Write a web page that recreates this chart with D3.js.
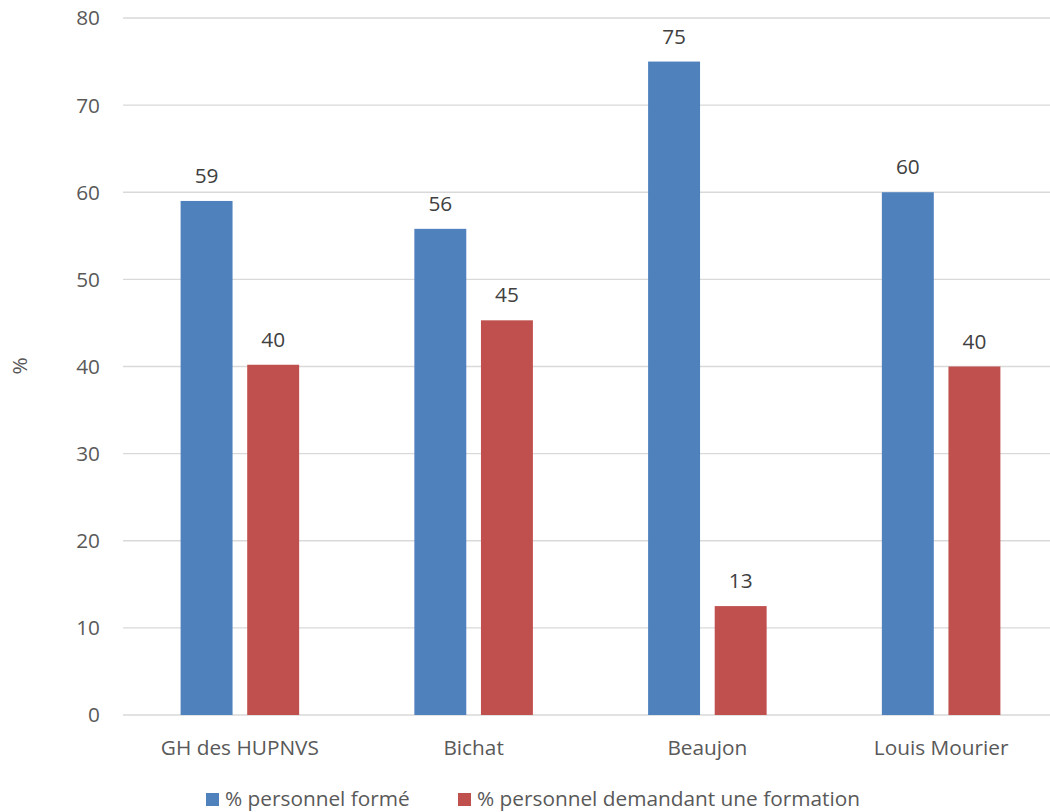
<!DOCTYPE html>
<html>
<head>
<meta charset="utf-8">
<script src="https://cdn.jsdelivr.net/npm/d3@7"></script>
<style>
  body { margin: 0; background: #fff; }
  text { font-family: "Open Sans", "Noto Sans", sans-serif; }
</style>
</head>
<body>
<div id="app"></div>
<script>
// chart data
var sites = ["GH des HUPNVS", "Bichat", "Beaujon", "Louis Mourier"]
var seriesNames = ["% personnel formé", "% personnel demandant une formation"]
var forme = [59.0, 55.8, 75.0, 60.0]
var demande = [40.2, 45.3, 12.5, 40.0]
var yTicks = [0, 10, 20, 30, 40, 50, 60, 70, 80]
var colors = ["#4f81bd", "#c0504d"]

var width = 1050, height = 812
var fontSize = 20.8

var data = sites.map(function (s, i) {
  return { site: s, values: [forme[i], demande[i]] }
})

var svg = d3.select("#app")
  .append("svg")
  .attr("width", width)
  .attr("height", height)

// scales
var x = d3.scaleBand()
  .domain(sites)
  .range([123, 1058])

var xSub = d3.scaleBand()
  .domain([0, 1])
  .range([0, x.bandwidth()])
  .paddingInner(0.22)
  .paddingOuter(0.865)

var y = d3.scaleLinear()
  .domain([0, 80])
  .range([715, 18])

// gridlines
svg.append("g")
  .selectAll("line")
  .data(yTicks)
  .enter()
  .append("line")
  .attr("x1", 123)
  .attr("x2", width)
  .attr("y1", function (d) { return y(d) })
  .attr("y2", function (d) { return y(d) })
  .attr("stroke", "#d9d9d9")
  .attr("stroke-width", 1.4)

// y tick labels
svg.append("g")
  .selectAll("text")
  .data(yTicks)
  .enter()
  .append("text")
  .attr("x", 100)
  .attr("y", function (d) { return y(d) })
  .attr("dy", "0.36em")
  .attr("text-anchor", "end")
  .attr("font-size", fontSize)
  .attr("fill", "#595959")
  .text(function (d) { return d })

// y axis title
svg.append("text")
  .attr("transform", "translate(27,366) rotate(-90)")
  .attr("text-anchor", "middle")
  .attr("font-size", fontSize)
  .attr("fill", "#595959")
  .text("%")

// bars
var g = svg.selectAll(".site")
  .data(data)
  .enter()
  .append("g")
  .attr("class", "site")
  .attr("transform", function (d) { return "translate(" + x(d.site) + ",0)" })

g.selectAll("rect")
  .data(function (d) { return d.values })
  .enter()
  .append("rect")
  .attr("x", function (d, i) { return xSub(i) })
  .attr("width", xSub.bandwidth())
  .attr("y", function (d) { return y(d) })
  .attr("height", function (d) { return y(0) - y(d) })
  .attr("fill", function (d, i) { return colors[i] })

// data labels
g.selectAll("text")
  .data(function (d) { return d.values })
  .enter()
  .append("text")
  .attr("x", function (d, i) { return xSub(i) + xSub.bandwidth() / 2 })
  .attr("y", function (d) { return y(d) - 18 })
  .attr("text-anchor", "middle")
  .attr("font-size", fontSize)
  .attr("fill", "#404040")
  .text(function (d) { return Math.round(d) })

// category labels
svg.append("g")
  .selectAll("text")
  .data(sites)
  .enter()
  .append("text")
  .attr("x", function (d) { return x(d) + x.bandwidth() / 2 })
  .attr("y", 755)
  .attr("text-anchor", "middle")
  .attr("font-size", fontSize)
  .attr("fill", "#595959")
  .text(function (d) { return d })

// legend
var legendX = [206, 458]
var legend = svg.append("g")
  .selectAll("g")
  .data(seriesNames)
  .enter()
  .append("g")
  .attr("transform", function (d, i) { return "translate(" + legendX[i] + ",793)" })

legend.append("rect")
  .attr("width", 13)
  .attr("height", 13)
  .attr("fill", function (d, i) { return colors[i] })

legend.append("text")
  .attr("x", 19)
  .attr("y", 13)
  .attr("font-size", fontSize)
  .attr("fill", "#595959")
  .text(function (d) { return d })
</script>
</body>
</html>
